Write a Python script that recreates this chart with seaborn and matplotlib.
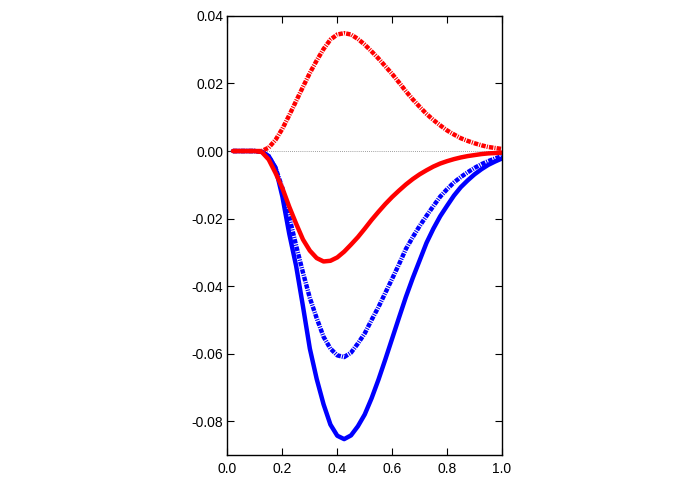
import numpy as np
import pandas as pd
import matplotlib
matplotlib.use("Agg")
import matplotlib.pyplot as plt
import seaborn as sns

sns.set_style("ticks")
plt.rcParams["font.family"] = ["Liberation Sans", "DejaVu Sans"]
plt.rcParams["axes.unicode_minus"] = False

# DATA

x_vals = [0.02, 0.05, 0.075, 0.1, 0.125, 0.15, 0.175, 0.2, 0.225, 0.25,
          0.275, 0.3, 0.325, 0.35, 0.375, 0.4, 0.425, 0.45, 0.475, 0.5,
          0.525, 0.55, 0.575, 0.6, 0.625, 0.65, 0.675, 0.7, 0.725, 0.75,
          0.775, 0.8, 0.825, 0.85, 0.875, 0.9, 0.925, 0.95, 0.975, 1.0]

blue_solid = [0.0, 0.0, 0.0, 0.0, -0.0002, -0.0015, -0.005, -0.0135, -0.0245, -0.034,
              -0.046, -0.0585, -0.0675, -0.075, -0.081, -0.0843, -0.0853, -0.0842, -0.0815, -0.078,
              -0.0732, -0.0677, -0.0617, -0.0555, -0.0493, -0.0432, -0.0376, -0.0324, -0.0272, -0.023,
              -0.0193, -0.0162, -0.0132, -0.0107, -0.0087, -0.0069, -0.0054, -0.0041, -0.0031, -0.0022]

blue_dashdot = [0.0, 0.0, 0.0, 0.0, -0.0002, -0.0015, -0.005, -0.011, -0.0195, -0.028,
                -0.036, -0.0435, -0.0495, -0.055, -0.0585, -0.0605, -0.061, -0.0597, -0.057, -0.054,
                -0.050, -0.0462, -0.042, -0.0378, -0.0335, -0.029, -0.0255, -0.0222, -0.0192, -0.0163,
                -0.0135, -0.0113, -0.0093, -0.0077, -0.0063, -0.005, -0.0039, -0.003, -0.0022, -0.0015]

red_solid = [0.0, 0.0, 0.0, 0.0, -0.0003, -0.0025, -0.0065, -0.011, -0.0165, -0.0215,
             -0.0262, -0.0295, -0.0317, -0.0327, -0.0325, -0.0315, -0.0298, -0.0277, -0.0255, -0.023,
             -0.0204, -0.018, -0.0157, -0.0136, -0.0117, -0.0099, -0.0083, -0.0069, -0.0057, -0.0046,
             -0.0037, -0.003, -0.0024, -0.0019, -0.0015, -0.0012, -0.0009, -0.0007, -0.0006, -0.0005]

red_dashdot = [0.0, 0.0, 0.0, 0.0, 0.0, 0.001, 0.0033, 0.0066, 0.0106, 0.0148,
               0.019, 0.0231, 0.0268, 0.0302, 0.033, 0.0345, 0.0349, 0.0345, 0.0332, 0.0315,
               0.0295, 0.0274, 0.0251, 0.0228, 0.0203, 0.0177, 0.0153, 0.0131, 0.011, 0.0092,
               0.0076, 0.0061, 0.0049, 0.0038, 0.003, 0.0023, 0.0017, 0.0012, 0.0009, 0.0006]

df = pd.DataFrame({
    "x": x_vals,
    "blue_solid": blue_solid,
    "blue_dashdot": blue_dashdot,
    "red_solid": red_solid,
    "red_dashdot": red_dashdot,
})

dashdot = (0, (1.0, 0.25, 0.25, 0.25))

fig = plt.figure(figsize=(6.9, 4.83), dpi=100)
ax = fig.add_axes([0.3297, 0.058, 0.3978, 0.909])

# zero reference line
ax.axhline(0, color="grey", linewidth=0.6, linestyle=(0, (1, 1.5)), zorder=1)

sns.lineplot(data=df, x="x", y="blue_solid", ax=ax, color="#0000ff", linewidth=3.2)
sns.lineplot(data=df, x="x", y="blue_dashdot", ax=ax, color="#0000ff", linewidth=3.2,
             linestyle=dashdot)
sns.lineplot(data=df, x="x", y="red_solid", ax=ax, color="#ff0000", linewidth=3.2)
sns.lineplot(data=df, x="x", y="red_dashdot", ax=ax, color="#ff0000", linewidth=3.2,
             linestyle=dashdot)

ax.set_xlim(0, 1)
ax.set_ylim(-0.09, 0.04)
ax.set_xticks(np.arange(0, 1.01, 0.2))
ax.set_yticks(np.arange(-0.08, 0.041, 0.02))
ax.set_xticklabels([f"{v:.1f}" for v in np.arange(0, 1.01, 0.2)])
ax.set_yticklabels([f"{v:.2f}" for v in np.arange(-0.08, 0.041, 0.02)])
ax.set_xlabel("")
ax.set_ylabel("")

ax.tick_params(direction="in", length=5, width=0.8, top=True, right=True,
               labelsize=10, colors="black")
ax.tick_params(axis="y", pad=3)
ax.tick_params(axis="x", pad=5)
for side in ax.spines.values():
    side.set_color("black")
    side.set_linewidth(1)

plt.savefig("out.png", dpi=100)
plt.close()
